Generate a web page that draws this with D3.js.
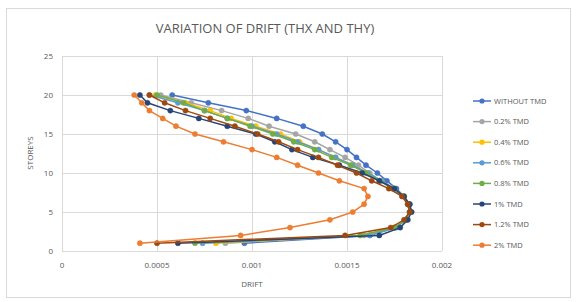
<!DOCTYPE html>
<html>
<head>
<meta charset="utf-8">
<script src="https://cdn.jsdelivr.net/npm/d3@7"></script>
<style>
  body { margin: 0; background: #fff; }
  svg text { font-family: "Open Sans", "Liberation Sans", sans-serif; fill: #595959; }
</style>
</head>
<body>
<svg id="chart" width="576" height="302"></svg>
<script>
// storeys 1..20
var storeys = [1,2,3,4,5,6,7,8,9,10,11,12,13,14,15,16,17,18,19,20];

var seriesNames = ["WITHOUT TMD", "0.2% TMD", "0.4% TMD", "0.6% TMD", "0.8% TMD", "1% TMD", "1.2% TMD", "2% TMD"];
var seriesColors = ["#4472C4", "#A5A5A5", "#FFC000", "#5B9BD5", "#70AD47", "#264478", "#9E480E", "#ED7D31"];

var driftWithout = [0.00096,0.00162,0.00175,0.00181,0.00183,0.00182,0.00180,0.00176,0.00171,0.00166,0.00160,0.00155,0.00150,0.00144,0.00137,0.00127,0.00113,0.00097,0.00077,0.00058];
var drift02 = [0.00086,0.00159,0.00175,0.00181,0.00183,0.00182,0.00179,0.00174,0.00168,0.00162,0.00156,0.00149,0.00141,0.00133,0.00123,0.00109,0.00098,0.00084,0.00068,0.00052];
var drift04 = [0.00081,0.00157,0.00175,0.00181,0.00184,0.00183,0.00180,0.00175,0.00168,0.00161,0.00153,0.00144,0.00135,0.00125,0.00115,0.00102,0.00089,0.00078,0.00065,0.00049];
var drift06 = [0.00074,0.00162,0.00176,0.00181,0.00183,0.00183,0.00180,0.00175,0.00168,0.00161,0.00153,0.00144,0.00135,0.00124,0.00113,0.00100,0.00087,0.00075,0.00061,0.00046];
var drift08 = [0.00070,0.00157,0.00175,0.00181,0.00183,0.00182,0.00180,0.00174,0.00167,0.00160,0.00152,0.00142,0.00133,0.00122,0.00111,0.00099,0.00087,0.00075,0.00064,0.00050];
var drift10 = [0.00061,0.00167,0.00178,0.00182,0.00184,0.00183,0.00180,0.00175,0.00167,0.00158,0.00146,0.00132,0.00121,0.00112,0.00102,0.00087,0.00072,0.00057,0.00045,0.00041];
var drift12 = [0.00050,0.00149,0.00173,0.00180,0.00183,0.00182,0.00179,0.00172,0.00163,0.00155,0.00145,0.00135,0.00124,0.00114,0.00103,0.00091,0.00078,0.00065,0.00054,0.00046];
var drift20 = [0.00041,0.00094,0.00120,0.00141,0.00153,0.00159,0.00161,0.00159,0.00146,0.00135,0.00124,0.00113,0.00100,0.00085,0.00070,0.00060,0.00053,0.00046,0.00042,0.00038];

var xTicks = [0, 0.0005, 0.001, 0.0015, 0.002];
var xTickLabels = ["0", "0.0005", "0.001", "0.0015", "0.002"];
var yTicks = [0, 5, 10, 15, 20, 25];

var allDrifts = [driftWithout, drift02, drift04, drift06, drift08, drift10, drift12, drift20];

var svg = d3.select('#chart');
var plot = {left: 62, right: 442, top: 56, bottom: 251};

// chart border
svg.append('rect')
    .attr('x', 6.5).attr('y', 8.5)
    .attr('width', 564).attr('height', 289)
    .attr('fill', '#fff')
    .attr('stroke', '#d9d9d9');

var x = d3.scaleLinear().domain([0, 0.002]).range([plot.left, plot.right]);
var y = d3.scaleLinear().domain([0, 25]).range([plot.bottom, plot.top]);

// gridlines
svg.append('g').selectAll('line.h')
    .data(yTicks)
    .enter().append('line')
    .attr('x1', plot.left).attr('x2', plot.right)
    .attr('y1', function(d) { return Math.round(y(d)) + 0.5; })
    .attr('y2', function(d) { return Math.round(y(d)) + 0.5; })
    .attr('stroke', '#d9d9d9');

svg.append('g').selectAll('line.v')
    .data(xTicks)
    .enter().append('line')
    .attr('y1', plot.top).attr('y2', plot.bottom)
    .attr('x1', function(d) { return Math.round(x(d)) + 0.5; })
    .attr('x2', function(d) { return Math.round(x(d)) + 0.5; })
    .attr('stroke', '#d9d9d9');

// tick labels
svg.append('g').selectAll('text')
    .data(yTicks)
    .enter().append('text')
    .attr('x', plot.left - 9)
    .attr('y', function(d) { return y(d); })
    .attr('dy', '0.35em')
    .attr('text-anchor', 'end')
    .attr('font-size', 8)
    .text(function(d) { return d; });

svg.append('g').selectAll('text')
    .data(xTicks)
    .enter().append('text')
    .attr('x', function(d) { return x(d); })
    .attr('y', 268)
    .attr('text-anchor', 'middle')
    .attr('font-size', 8)
    .text(function(d, i) { return xTickLabels[i]; });

// titles
svg.append('text')
    .attr('x', 265).attr('y', 33)
    .attr('text-anchor', 'middle')
    .attr('font-size', 13)
    .text('VARIATION OF DRIFT (THX AND THY)');

svg.append('text')
    .attr('x', 252).attr('y', 287)
    .attr('text-anchor', 'middle')
    .attr('font-size', 8)
    .text('DRIFT');

svg.append('text')
    .attr('transform', 'translate(33,153) rotate(-90)')
    .attr('text-anchor', 'middle')
    .attr('font-size', 8)
    .text('STOREYS');

// series
var line = d3.line()
    .x(function(d) { return x(d.v); })
    .y(function(d) { return y(d.s); });

allDrifts.forEach(function(vals, i) {
    var pts = vals.map(function(v, j) { return {v: v, s: storeys[j]}; });
    var g = svg.append('g');
    g.append('path')
        .datum(pts)
        .attr('d', line)
        .attr('fill', 'none')
        .attr('stroke', seriesColors[i])
        .attr('stroke-width', 1.5);
    g.selectAll('circle')
        .data(pts)
        .enter().append('circle')
        .attr('cx', function(d) { return x(d.v); })
        .attr('cy', function(d) { return y(d.s); })
        .attr('r', 2.6)
        .attr('fill', seriesColors[i])
        .attr('stroke', seriesColors[i])
        .attr('stroke-width', 0.5);
});

// legend
var legend = svg.append('g').selectAll('g')
    .data(seriesNames)
    .enter().append('g')
    .attr('transform', function(d, i) { return 'translate(473,' + (101 + i * 20.6) + ')'; });

legend.append('line')
    .attr('x1', 0).attr('x2', 18)
    .attr('stroke', function(d, i) { return seriesColors[i]; })
    .attr('stroke-width', 1.5);
legend.append('circle')
    .attr('cx', 9).attr('r', 2.6)
    .attr('fill', function(d, i) { return seriesColors[i]; });
legend.append('text')
    .attr('x', 21)
    .attr('dy', '0.35em')
    .attr('font-size', 7.5)
    .text(function(d) { return d; });
</script>
</body>
</html>
